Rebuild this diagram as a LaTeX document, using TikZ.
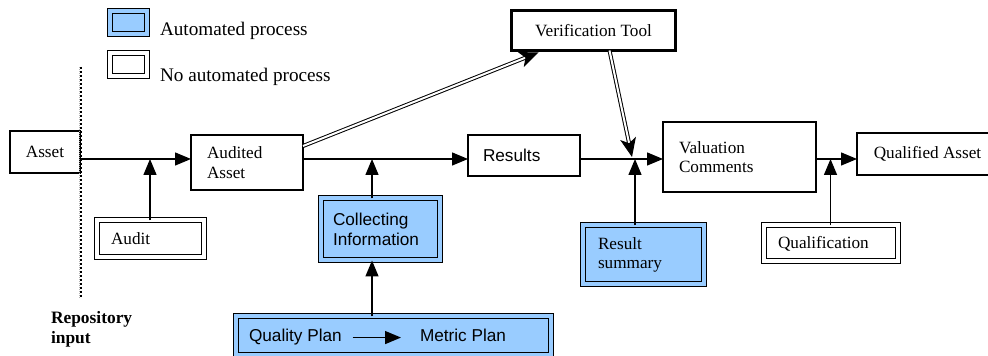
\documentclass[tikz,border=0pt]{standalone}
\usepackage{fontspec}
\setmainfont{Liberation Serif}
\newfontfamily\sansf{Liberation Sans}
\usetikzlibrary{arrows.meta,calc}
\definecolor{autoblue}{RGB}{153,204,255}
\begin{document}
\begin{tikzpicture}[x=0.5pt,y=-0.5pt,
  every node/.style={inner sep=0pt, outer sep=0pt, font=\fontsize{8.6}{9.8}\selectfont},
  plainbox/.style={draw, line width=0.65pt, fill=white},
  dblbox/.style={draw, line width=0.5pt, double distance=2pt},
  autobox/.style={dblbox, fill=autoblue, double=autoblue},
  manbox/.style={dblbox, fill=white, double=white},
  toolbox/.style={draw, line width=1.5pt, fill=white},
  lefttext/.style 2 args={text width=#2, inner xsep=#1, align=left},
  sans/.style={font=\sansf\fontsize{8.6}{9.8}\selectfont},
  legendtext/.style={anchor=base west, font=\fontsize{9.6}{11}\selectfont},
  flow/.style={line width=0.7pt, -{Triangle[length=8pt,width=6.5pt]}},
  twin/.style={double, double distance=1pt, line width=0.5pt, -{Stealth[length=9.5pt,width=8pt,inset=2.5pt]}},
]
\useasboundingbox (0,0) rectangle (988,356);
\clip (0,0) rectangle (988,356);

% legend
\node[autobox, minimum width=18.5pt, minimum height=11.5pt] (legA) at (128,23) {};
\node[legendtext] (legAt) at (160,36) {Automated process};
\node[manbox, minimum width=18.5pt, minimum height=11.5pt] (legN) at (128,65) {};
\node[legendtext] (legNt) at (160,82) {No automated process};

% process boxes
\node[plainbox, minimum width=35pt, minimum height=21pt] (asset) at (45,152) {Asset};
\node[plainbox, minimum width=56pt, minimum height=27.5pt, lefttext={8pt}{40pt}] (aud) at (247,162.5) {Audited\\Asset};
\node[manbox, minimum width=53.5pt, minimum height=18.5pt, lefttext={7.25pt}{39pt}] (audit) at (150,239) {Audit};
\node[plainbox, sans, minimum width=56pt, minimum height=20.5pt, lefttext={7.5pt}{41pt}] (res) at (524,155.5) {Results};
\node[autobox, sans, minimum width=59.5pt, minimum height=31pt, lefttext={6.25pt}{47pt}] (coll) at (380,229.5) {Collecting\\Information};
\node[autobox, minimum width=157.5pt, minimum height=19.5pt] (plans) at (393,336) {};
\node[sans, anchor=base west] (qp) at (249,342) {Quality Plan};
\node[sans, anchor=base west] (mp) at (420,342) {Metric Plan};
\node[toolbox, minimum width=82pt, minimum height=20pt] (ver) at (593.5,30.5) {Verification Tool};
\node[autobox, minimum width=60.5pt, minimum height=29.5pt, lefttext={7.75pt}{45pt}] (sum) at (643,255) {Result\\summary};
\node[plainbox, minimum width=76.5pt, minimum height=35pt, lefttext={8pt}{60.5pt}] (val) at (739.5,157) {Valuation\\Comments};
\node[plainbox, minimum width=70.5pt, minimum height=21pt] (qa) at (927.5,154) {Qualified Asset};
\node[manbox, minimum width=67pt, minimum height=18pt, lefttext={7.25pt}{52.5pt}] (qual) at (830.5,243.5) {Qualification};

\node[anchor=north west, align=left, font=\bfseries\fontsize{8.7}{10}\selectfont] (repo) at (51,311) {Repository\\input};

% repository boundary
\draw[black!30, line width=0.5pt, dash pattern=on 0.5pt off 0.5pt] (79,67) -- (79,298);
\draw[line width=1pt, dash pattern=on 1pt off 1pt] (81,67) -- (81,298);

% main flow line
\coordinate (m) at (0,159);
\draw[flow] (asset.east |- m) -- (aud.west |- m);
\draw[flow] (aud.east |- m) -- (res.west |- m);
\draw[flow] (res.east |- m) -- (val.west |- m);
\draw[flow] (val.east |- m) -- (qa.west |- m);

% inputs into the flow
\coordinate (collTop) at ($(coll.north)+(-8,0)$);
\coordinate (sumTop) at ($(sum.north)+(-8,0)$);
\coordinate (plansTop) at ($(plans.north)+(-21,0)$);
\draw[flow] (audit.north) -- (audit.north |- m);
\draw[flow] (collTop) -- (collTop |- m);
\draw[flow] (sumTop) -- (sumTop |- m);
\draw[flow] (qual.north) -- (qual.north |- m);
\draw[flow] (plansTop) -- (coll.south -| plansTop);
\draw[flow, shorten <=5.5pt, shorten >=9.5pt] (qp.east) -- (qp.east -| mp.west);

% verification tool loop
\coordinate (vend) at (632,157);
\draw[twin] (aud.east |- 0,146) -- ($(ver.south west)+(27,2)$);
\draw[twin] ($(ver.south west)+(98,0)$) -- (vend);
\end{tikzpicture}
\end{document}
